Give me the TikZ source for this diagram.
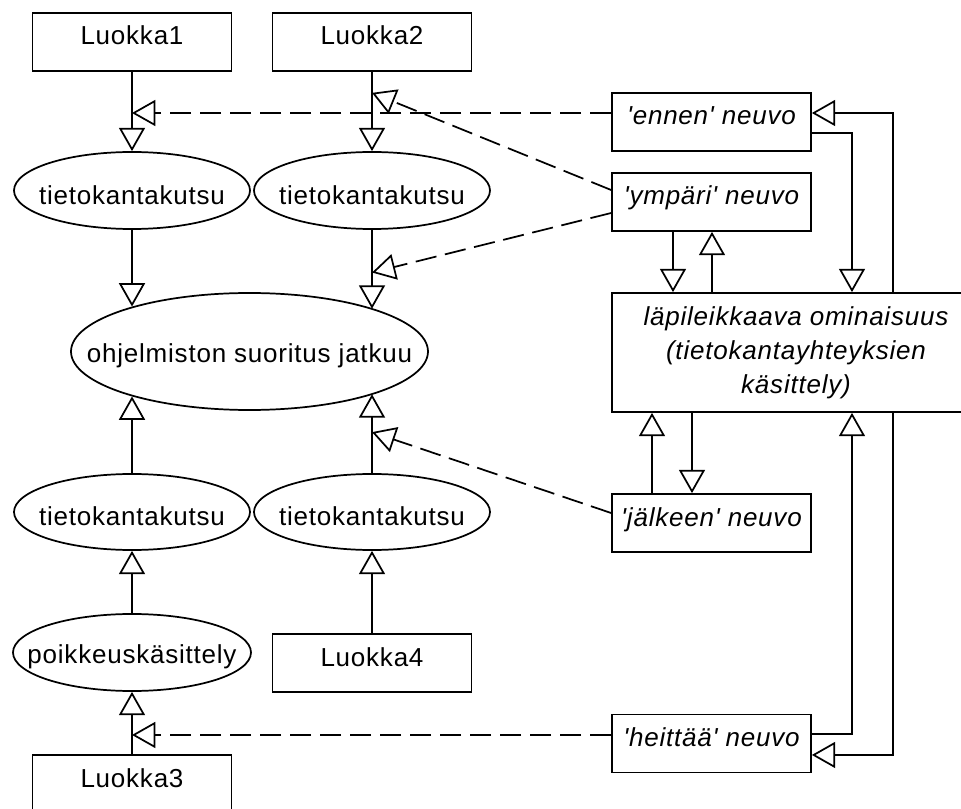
\documentclass[tikz,border=0pt]{standalone}
\usepackage{fontspec}
\newfontfamily\uml{Liberation Sans}[LetterSpace=3]
\usetikzlibrary{arrows.meta,shapes.geometric,calc}

\tikzset{
  umltext/.style={font=\uml\fontsize{19.5pt}{25.5pt}\selectfont},
  classbox/.style={draw, line width=1.3pt, minimum width=149.25pt, minimum height=43.5pt,
    inner sep=0pt, text height=24pt, text depth=19.5pt, umltext},
  advice/.style={classbox, font=\uml\itshape\fontsize{19.5pt}{25.5pt}\selectfont},
  usecase/.style={draw, ellipse, line width=1.3pt, inner sep=0pt},
  uctext/.style={label={[umltext, yshift=-3.5pt]center:#1}},
  gen/.style={line width=1.3pt, -{Triangle[open, length=17.5pt, width=19.5pt, line width=1.3pt]}},
  dep/.style={gen, dash pattern=on 16pt off 6.5pt},
}

\begin{document}
\begin{tikzpicture}[x=0.75pt, y=-0.75pt]
\useasboundingbox (0,0) rectangle (961,809);
\clip (0,0) rectangle (961,809);
\fill[white] (0,0) rectangle (961,809);

% classes
\node[classbox] (L1) at (132,42) {Luokka1};
\node[classbox] (L2) at (372,42) {Luokka2};
\node[classbox] (L4) at (372,663) {Luokka4};
\node[classbox] (L3) at (132,784) {Luokka3};

% join points
\node[usecase, minimum width=177pt, minimum height=57.75pt, uctext=tietokantakutsu] (tk1) at (132,190.5) {};
\node[usecase, minimum width=177pt, minimum height=57.75pt, uctext=tietokantakutsu] (tk2) at (372,190.5) {};
\node[usecase, minimum width=267.75pt, minimum height=87.75pt, uctext=ohjelmiston suoritus jatkuu] (big) at (249.5,351.5) {};
\node[usecase, minimum width=177pt, minimum height=57pt, uctext=tietokantakutsu] (tk3) at (132,512) {};
\node[usecase, minimum width=177pt, minimum height=57pt, uctext=tietokantakutsu] (tk4) at (372,512) {};
\node[usecase, minimum width=178.5pt, minimum height=57.75pt, uctext=poikkeuskäsittely] (poik) at (132,652.5) {};

% advice and the crosscutting concern
\node[advice] (ennen) at (711.5,122) {'ennen' neuvo};
\node[advice] (ymp) at (711.5,202) {'ympäri' neuvo};
\node[advice] (jalk) at (711.5,523) {'jälkeen' neuvo};
\node[advice] (heit) at (711.5,743.5) {'heittää' neuvo};
\node[draw, line width=1.3pt, minimum width=276pt, minimum height=89.25pt, inner sep=0pt,
      align=center, font=\uml\itshape\fontsize{19.5pt}{25.5pt}\selectfont] (lapi) at (796,352.5)
  {läpileikkaava ominaisuus\\(tietokantayhteyksien\\käsittely)};

% program flow
\draw[gen] (L1.south) -- (L1.south |- tk1.north);
\draw[gen] (L2.south) -- (L2.south |- tk2.north);
\draw[gen] (tk1.south) -- (tk1.south |- big.159);
\draw[gen] (tk2.south) -- (tk2.south |- big.19);
\draw[gen] (tk3.north) -- (tk3.north |- big.201);
\draw[gen] (tk4.north) -- (tk4.north |- big.341);
\draw[gen] (poik.north) -- (poik.north |- tk3.south);
\draw[gen] (L4.north) -- (L4.north |- tk4.south);
\draw[gen] (L3.north) -- (L3.north |- poik.south);

% advice woven into the flow
\draw[dep] ([yshift=6.75pt]ennen.west) coordinate (ea) -- (ea -| L1.south);
\draw[dep] ([yshift=9pt]ymp.west) -- ([yshift=-15.75pt]L2.south);
\draw[dep] ([yshift=-8.25pt]ymp.west) -- ([yshift=-32pt]tk2.south);
\draw[dep] ([yshift=7.5pt]jalk.west) -- ([yshift=30.75pt]tk4.north);
\draw[dep] ([yshift=6.4pt]heit.west) coordinate (ha) -- (ha -| L3.north);

% advice <-> crosscutting concern
\coordinate (xa) at (852,0);
\coordinate (xb) at (893,0);
\coordinate (xc) at (652,0);
\coordinate (xd) at (692,0);
\coordinate (xe) at (673,0);
\coordinate (xf) at (712,0);
\draw[gen] (xe |- ymp.south) -- (xe |- lapi.north);
\draw[gen] (xf |- lapi.north) -- (xf |- ymp.south);
\draw[gen] ([yshift=-8.25pt]ennen.east) -| (xa |- lapi.north);
\draw[gen] (xb |- lapi.north) |- ([yshift=6.75pt]ennen.east);
\draw[gen] (xc |- jalk.north) -- (xc |- lapi.south);
\draw[gen] (xd |- lapi.south) -- (xd |- jalk.north);
\draw[gen] ([yshift=7.1pt]heit.east) -| (xa |- lapi.south);
\draw[gen] (xb |- lapi.south) |- ([yshift=-8.6pt]heit.east);
\end{tikzpicture}
\end{document}
